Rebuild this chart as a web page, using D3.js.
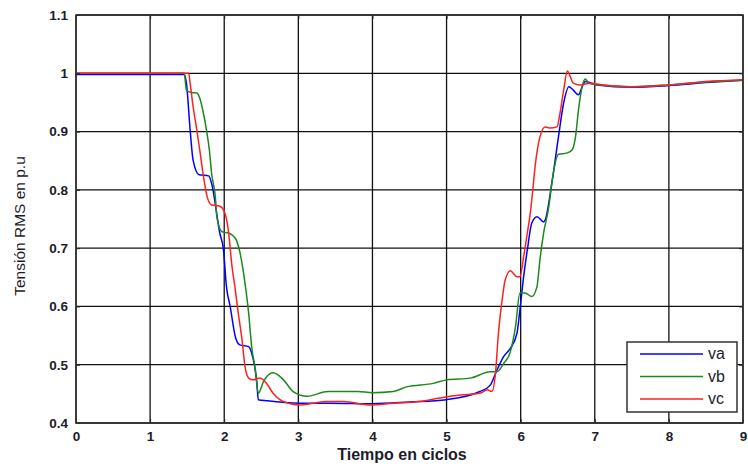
<!DOCTYPE html>
<html>
<head>
  <meta charset="utf-8">
  <title>Tension RMS</title>
  <script src="https://d3js.org/d3.v7.min.js"></script>
  <style>
    body { margin: 0; background: #fff; }
    text { font-family: "Liberation Sans", Arial, sans-serif; }
  </style>
</head>
<body>
<div id="chart"></div>
<script>
  // datos: [tiempo en ciclos, tensión p.u]
  const va = [[0,0.998],[1.46,0.998],[1.49,0.983],[1.54,0.903],[1.58,0.851],[1.66,0.826],[1.79,0.824],[1.83,0.811],
    [1.94,0.726],[1.99,0.697],[2.03,0.634],[2.08,0.600],[2.15,0.548],[2.21,0.534],[2.33,0.531],[2.37,0.52],
    [2.44,0.469],[2.46,0.440],[2.58,0.438],[3.02,0.434],[3.43,0.434],[4.0,0.433],[4.5,0.436],[5.0,0.44],
    [5.45,0.454],[5.59,0.465],[5.68,0.491],[5.77,0.514],[5.86,0.528],[5.95,0.554],[5.99,0.594],[6.04,0.651],
    [6.09,0.697],[6.15,0.743],[6.22,0.754],[6.31,0.745],[6.33,0.748],[6.42,0.811],[6.51,0.891],[6.58,0.949],
    [6.65,0.977],[6.71,0.971],[6.78,0.963],[6.83,0.977],[6.87,0.986],[7.03,0.98],[7.5,0.976],[8,0.979],
    [8.5,0.984],[9,0.988]];
  const vb = [[0,1],[1.46,1],[1.49,0.971],[1.56,0.967],[1.63,0.966],[1.67,0.957],[1.72,0.931],[1.76,0.903],
    [1.80,0.868],[1.83,0.828],[1.88,0.788],[1.90,0.754],[1.97,0.728],[2.06,0.726],[2.15,0.717],[2.21,0.694],
    [2.28,0.640],[2.33,0.588],[2.37,0.531],[2.42,0.491],[2.46,0.451],[2.53,0.471],[2.66,0.486],[2.80,0.474],
    [2.93,0.454],[3.12,0.446],[3.40,0.454],[3.80,0.454],[4.0,0.452],[4.28,0.454],[4.46,0.462],[4.82,0.468],
    [5.0,0.474],[5.32,0.477],[5.59,0.488],[5.68,0.488],[5.77,0.502],[5.86,0.522],[5.93,0.565],[5.99,0.623],
    [6.06,0.623],[6.15,0.617],[6.22,0.634],[6.26,0.680],[6.31,0.726],[6.38,0.771],[6.43,0.82],[6.51,0.861],
    [6.62,0.863],[6.69,0.868],[6.74,0.891],[6.78,0.937],[6.83,0.977],[6.87,0.99],[6.92,0.983],[6.98,0.981],
    [7.5,0.977],[8,0.98],[8.5,0.985],[9,0.988]];
  const vc = [[0,1],[1.52,1],[1.54,0.983],[1.58,0.943],[1.63,0.903],[1.67,0.868],[1.72,0.823],[1.77,0.788],
    [1.83,0.774],[1.94,0.772],[2.01,0.760],[2.06,0.726],[2.10,0.674],[2.15,0.628],[2.19,0.588],[2.24,0.543],
    [2.28,0.497],[2.33,0.477],[2.39,0.474],[2.48,0.477],[2.57,0.468],[2.66,0.451],[2.75,0.440],[2.89,0.433],
    [3.02,0.431],[3.20,0.434],[3.38,0.437],[3.61,0.437],[3.97,0.431],[4.28,0.434],[4.64,0.437],[4.91,0.443],
    [5.18,0.448],[5.45,0.451],[5.55,0.457],[5.61,0.454],[5.66,0.485],[5.70,0.554],[5.75,0.611],[5.79,0.645],
    [5.86,0.661],[5.95,0.651],[5.99,0.651],[6.04,0.685],[6.09,0.726],[6.13,0.760],[6.15,0.783],[6.20,0.846],
    [6.26,0.891],[6.33,0.908],[6.40,0.906],[6.49,0.908],[6.53,0.931],[6.58,0.971],[6.63,1.004],[6.67,0.994],
    [6.71,0.983],[6.80,0.980],[6.94,0.983],[7.12,0.980],[7.5,0.977],[8,0.98],[8.5,0.986],[9,0.989]];

  const seriesNames = ['va', 'vb', 'vc'];
  const seriesColors = ['#0000ff', '#1a8a1a', '#ff2020'];
  const xTicks = [0, 1, 2, 3, 4, 5, 6, 7, 8, 9];
  const yTicks = [0.4, 0.5, 0.6, 0.7, 0.8, 0.9, 1, 1.1];

  const width = 748, height = 466;
  const margin = {top: 15, right: 5, bottom: 43, left: 76};
  const w = width - margin.left - margin.right;
  const h = height - margin.top - margin.bottom;

  const svg = d3.select('#chart').append('svg')
      .attr('width', width)
      .attr('height', height);
  const g = svg.append('g')
      .attr('transform', `translate(${margin.left},${margin.top})`);

  const x = d3.scaleLinear().domain([0, 9]).range([0, w]);
  const y = d3.scaleLinear().domain([0.4, 1.1]).range([h, 0]);

  // rejilla
  g.append('g').selectAll('line').data(xTicks).join('line')
     .attr('x1', d => x(d)).attr('x2', d => x(d))
     .attr('y1', 0).attr('y2', h)
     .attr('stroke', '#111').attr('stroke-width', 1.3);
  g.append('g').selectAll('line').data(yTicks).join('line')
     .attr('x1', 0).attr('x2', w)
     .attr('y1', d => y(d)).attr('y2', d => y(d))
     .attr('stroke', '#111').attr('stroke-width', 1.3);

  // curvas
  const line = d3.line()
      .x(d => x(d[0]))
      .y(d => y(d[1]))
      .curve(d3.curveMonotoneX);
  [va, vb, vc].forEach((s, i) => {
    g.append('path')
     .datum(s)
     .attr('fill', 'none')
     .attr('stroke', seriesColors[i])
     .attr('stroke-width', 1.5)
     .attr('d', line);
  });

  // ejes
  const xAxis = d3.axisBottom(x).tickValues(xTicks).tickFormat(d3.format('d')).tickSize(-4).tickPadding(8);
  const yAxis = d3.axisLeft(y).tickValues(yTicks).tickFormat(d => d === 1 ? '1' : d3.format('.1f')(d)).tickSize(-4).tickPadding(8);
  const styleAxis = sel => {
    sel.select('.domain').remove();
    sel.selectAll('line').attr('stroke', '#222');
    sel.selectAll('text')
       .attr('fill', '#1c1c2c')
       .attr('font-size', '13.5px')
       .attr('font-weight', 'bold')
       .attr('font-family', '"Liberation Sans", Arial, sans-serif');
  };
  g.append('g').attr('transform', `translate(0,${h})`).call(xAxis).call(styleAxis);
  g.append('g').call(yAxis).call(styleAxis);
  g.append('g').call(d3.axisTop(x).tickValues(xTicks).tickFormat('').tickSize(-4)).call(styleAxis);
  g.append('g').attr('transform', `translate(${w},0)`)
   .call(d3.axisRight(y).tickValues(yTicks).tickFormat('').tickSize(-4)).call(styleAxis);

  g.append('rect')
   .attr('width', w).attr('height', h)
   .attr('fill', 'none').attr('stroke', '#333').attr('stroke-width', 1.6);

  // etiquetas
  svg.append('text')
     .attr('x', 402)
     .attr('y', 460)
     .attr('text-anchor', 'middle')
     .attr('font-size', '16px')
     .attr('font-weight', 'bold')
     .attr('fill', '#1c1c2c')
     .text('Tiempo en ciclos');
  svg.append('text')
     .attr('transform', 'translate(25,226) rotate(-90)')
     .attr('text-anchor', 'middle')
     .attr('font-size', '15.5px')
     .attr('fill', '#1c1c2c')
     .text('Tensión RMS en p.u');

  // leyenda
  const lg = svg.append('g').attr('transform', 'translate(627,342)');
  lg.append('rect').attr('width', 110).attr('height', 70)
    .attr('fill', '#fff').attr('stroke', '#333').attr('stroke-width', 1.5);
  seriesNames.forEach((n, i) => {
    const ly = 12 + i * 22.5;
    lg.append('line').attr('x1', 13).attr('x2', 76).attr('y1', ly).attr('y2', ly)
      .attr('stroke', seriesColors[i]).attr('stroke-width', 1.5);
    lg.append('text').attr('x', 81).attr('y', ly + 5)
      .attr('font-size', '16px').attr('fill', '#1c1c2c').text(n);
  });
</script>
</body>
</html>
